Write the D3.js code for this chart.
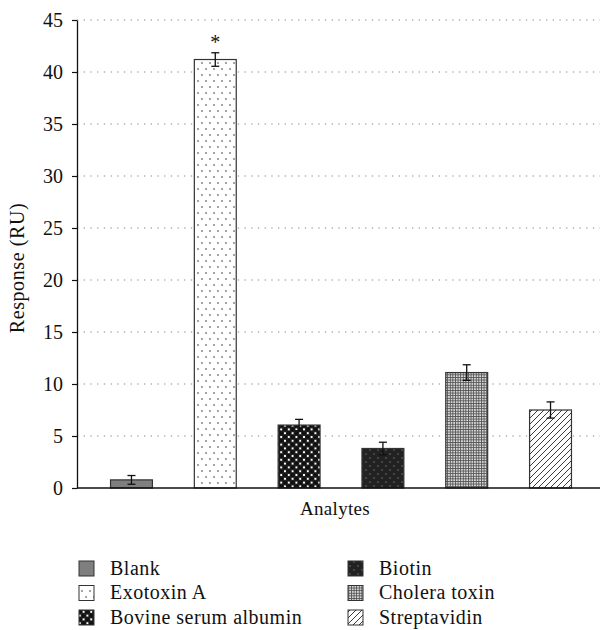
<!DOCTYPE html>
<html>
<head>
<meta charset="utf-8">
<script src="https://cdn.jsdelivr.net/npm/d3@7"></script>
<style>
  body { margin: 0; background: #fff; }
  svg { display: block; font-family: "Liberation Serif", "Times New Roman", serif; }
</style>
</head>
<body>
<svg id="chart" width="600" height="630"></svg>
<script>
// Analyte responses (RU) with standard errors
const categories = ["Blank", "Exotoxin A", "Bovine serum albumin", "Biotin", "Cholera toxin", "Streptavidin"];
const responses = [0.78, 41.2, 6.05, 3.8, 11.1, 7.5];
const errors = [0.42, 0.65, 0.55, 0.6, 0.75, 0.78];
const significant = [false, true, false, false, false, false];
const yTicks = [0, 5, 10, 15, 20, 25, 30, 35, 40, 45];
const patternIds = ["pBlank", "pExo", "pBsa", "pBiotin", "pChol", "pStrep"];

const svg = d3.select("#chart");
const plotLeft = 77, plotRight = 605, plotTop = 20, plotBottom = 488;

const x = d3.scaleBand().domain(categories).range([plotLeft, plotRight]).paddingInner(0.5).paddingOuter(0.4);
const y = d3.scaleLinear().domain([0, 45]).range([plotBottom, plotTop]);

// Fill patterns
const defs = svg.append("defs");
function pattern(id, w, h) {
  return defs.append("pattern").attr("id", id).attr("patternUnits", "userSpaceOnUse")
    .attr("width", w).attr("height", h === undefined ? w : h);
}
pattern("pBlank", 4).append("rect").attr("width", 4).attr("height", 4).attr("fill", "#7f7f7f");

let p = pattern("pExo", 8, 12);
p.append("rect").attr("width", 8).attr("height", 12).attr("fill", "#fff");
p.append("circle").attr("cx", 2).attr("cy", 3).attr("r", 0.8).attr("fill", "#333");
p.append("circle").attr("cx", 6).attr("cy", 9).attr("r", 0.8).attr("fill", "#333");

p = pattern("pBsa", 7.6);
p.append("rect").attr("width", 7.6).attr("height", 7.6).attr("fill", "#fff");
[[0, 0], [7.6, 0], [0, 7.6], [7.6, 7.6], [3.8, 3.8]].forEach(([cx, cy]) =>
  p.append("circle").attr("cx", cx).attr("cy", cy).attr("r", 2.9).attr("fill", "#111"));

p = pattern("pBiotin", 8);
p.append("rect").attr("width", 8).attr("height", 8).attr("fill", "#222");
p.append("rect").attr("x", 1.5).attr("y", 1.5).attr("width", 1).attr("height", 1).attr("fill", "#aaa");
p.append("rect").attr("x", 5.5).attr("y", 5.5).attr("width", 1).attr("height", 1).attr("fill", "#aaa");

p = pattern("pChol", 2.6);
p.append("rect").attr("width", 2.6).attr("height", 2.6).attr("fill", "#ddd");
p.append("rect").attr("width", 2.6).attr("height", 0.9).attr("fill", "#555");
p.append("rect").attr("width", 0.9).attr("height", 2.6).attr("fill", "#555");

p = pattern("pStrep", 6);
p.append("rect").attr("width", 6).attr("height", 6).attr("fill", "#fff");
p.append("path").attr("d", "M-1,7 L7,-1 M-4,4 L4,-4 M2,10 L10,2").attr("stroke", "#222").attr("stroke-width", 0.9);

// Dotted horizontal gridlines
svg.append("g").selectAll("line").data(yTicks.filter(t => t > 0)).join("line")
  .attr("x1", plotLeft).attr("x2", 600)
  .attr("y1", d => y(d)).attr("y2", d => y(d))
  .attr("stroke", "#888").attr("stroke-width", 1.2).attr("stroke-dasharray", "1.3,5.4");

// Bars
svg.append("g").selectAll("rect").data(categories).join("rect")
  .attr("x", d => x(d)).attr("width", x.bandwidth())
  .attr("y", (d, i) => y(responses[i])).attr("height", (d, i) => y(0) - y(responses[i]))
  .attr("fill", (d, i) => `url(#${patternIds[i]})`)
  .attr("stroke", "#333").attr("stroke-width", 1.2);

// Error bars
const eb = svg.append("g").attr("stroke", "#111").attr("stroke-width", 1.3);
categories.forEach((c, i) => {
  const cx = x(c) + x.bandwidth() / 2;
  const hi = y(responses[i] + errors[i]), lo = y(responses[i] - errors[i]);
  eb.append("line").attr("x1", cx).attr("x2", cx).attr("y1", hi).attr("y2", lo);
  eb.append("line").attr("x1", cx - 4).attr("x2", cx + 4).attr("y1", hi).attr("y2", hi);
  eb.append("line").attr("x1", cx - 4).attr("x2", cx + 4).attr("y1", lo).attr("y2", lo);
});

// Significance marker
svg.append("g").selectAll("text").data(categories.filter((c, i) => significant[i])).join("text")
  .attr("x", d => x(d) + x.bandwidth() / 2)
  .attr("y", d => { const i = categories.indexOf(d); return y(responses[i] + errors[i]) - 4; })
  .attr("text-anchor", "middle").attr("font-size", 20).attr("fill", "#111").text("*");

// Y axis
const yAxis = svg.append("g").attr("transform", `translate(${plotLeft},0)`)
  .call(d3.axisLeft(y).tickValues(yTicks).tickSize(5).tickSizeOuter(0).tickPadding(9));
yAxis.select(".domain").attr("stroke", "#111").attr("stroke-width", 1.3);
yAxis.selectAll(".tick line").attr("stroke", "#111").attr("stroke-width", 1.2);
yAxis.selectAll(".tick text").attr("font-size", 20).attr("fill", "#111")
  .attr("font-family", "Liberation Serif, serif");

// X axis baseline
svg.append("line").attr("x1", plotLeft).attr("x2", 600).attr("y1", plotBottom).attr("y2", plotBottom)
  .attr("stroke", "#111").attr("stroke-width", 1.3);

// Axis titles
svg.append("text").attr("x", 335).attr("y", 515).attr("text-anchor", "middle")
  .attr("font-size", 19).attr("letter-spacing", 0.3).attr("fill", "#111").text("Analytes");
svg.append("text").attr("transform", `translate(24,${(plotTop + plotBottom) / 2 + 14}) rotate(-90)`)
  .attr("text-anchor", "middle").attr("font-size", 20).attr("letter-spacing", 0.6)
  .attr("fill", "#111").text("Response (RU)");

// Legend: two columns of three
const legend = svg.append("g");
categories.forEach((c, i) => {
  const col = Math.floor(i / 3), row = i % 3;
  const lx = col === 0 ? 79 : 348, ly = 568 + row * 24.5;
  legend.append("rect").attr("x", lx).attr("y", ly - 7).attr("width", 15).attr("height", 15)
    .attr("fill", `url(#${patternIds[i]})`).attr("stroke", "#333").attr("stroke-width", 1);
  legend.append("text").attr("x", lx + 31).attr("y", ly + 6.5).attr("font-size", 20)
    .attr("letter-spacing", 0.5).attr("fill", "#111").text(c);
});
</script>
</body>
</html>
